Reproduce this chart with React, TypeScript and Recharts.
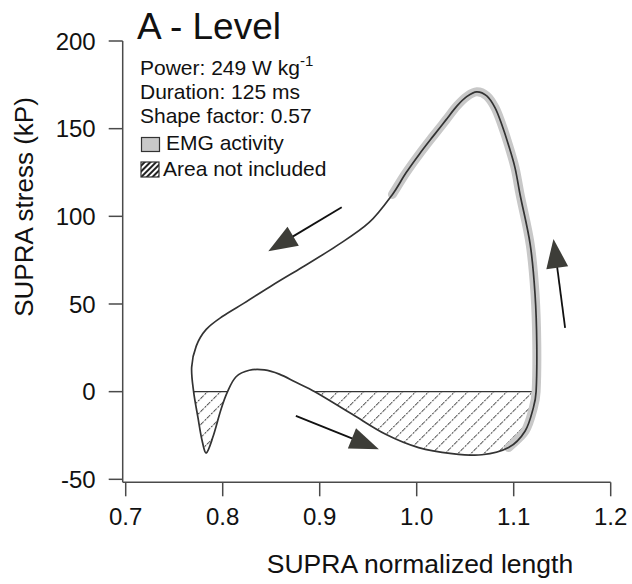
import React from 'react'
import { ComposedChart, Line, Area, XAxis, YAxis, ReferenceLine, Customized } from 'recharts'

// Work loop: normalized length vs stress, traced counter-clockwise from the upper branch
const loopLength = [
  0.975, 0.951, 0.917, 0.882, 0.852, 0.822, 0.8, 0.783, 0.7727, 0.768,
  0.77, 0.7745, 0.7788, 0.783, 0.7897, 0.7983, 0.805, 0.8138, 0.8274, 0.843,
  0.8583, 0.875, 0.895, 0.9336, 0.968, 1.002, 1.0364, 1.0672, 1.0947, 1.1118,
  1.1203, 1.1231, 1.1238, 1.122, 1.117, 1.1065, 1.1013, 1.0944, 1.0876, 1.0807,
  1.0722, 1.0619, 1.0519, 1.0416, 1.0302, 1.0168, 1.0029, 0.989, 0.975,
]
const loopStress = [
  112.5, 96.5, 83, 71, 61, 50.5, 43, 35.5, 26, 14,
  0, -14.8, -28, -35, -26.2, -10, 0, 8.5, 12.2, 12.4,
  10, 5.5, 0, -12.9, -24.3, -31.9, -35.3, -36, -31.9, -22.4,
  -9.1, 0, 27, 55.5, 84, 112.6, 127.8, 141.1, 152.5, 162,
  168.7, 171, 168.4, 163, 155, 145.6, 135.6, 124.8, 112.5,
]

// index ranges into the loop
const emgRange = [28, 48]
const leftLobeRange = [10, 16]
const rightLobeRange = [22, 31]

const xTicks = [0.7, 0.8, 0.9, 1.0, 1.1, 1.2]
const yTicks = [-50, 0, 50, 100, 150, 200]

// direction arrows [fromLength, fromStress, toLength, toStress]
const arrows = [
  [0.9227, 105.2, 0.847, 80.1],
  [0.8754, -13.8, 0.961, -32.8],
  [1.153, 36.4, 1.141, 87.1],
]

const infoLines = ['Duration: 125 ms', 'Shape factor: 0.57']

const loop = loopLength.map((x, i) => ({ x, y: loopStress[i] }))
const slice = (r: number[]) => loop.slice(r[0], r[1] + 1)

const FONT = '"Liberation Sans", Arial, sans-serif'
const AXIS = '#4a4a4a'

// Chord-length Catmull-Rom curve for recharts; a path whose ends meet is joined smoothly
const loopCurve = (context: any) => {
  let line = NaN
  let pts: number[][] = []
  const dist = (a: number[], b: number[]) => Math.hypot(b[0] - a[0], b[1] - a[1])
  return {
    areaStart() { line = 0 },
    areaEnd() { line = NaN },
    lineStart() { pts = [] },
    point(x: number, y: number) { pts.push([+x, +y]) },
    lineEnd() {
      const n = pts.length
      if (n) {
        if (line) context.lineTo(pts[0][0], pts[0][1])
        else context.moveTo(pts[0][0], pts[0][1])
        const closed = n > 3 && dist(pts[0], pts[n - 1]) < 0.01
        for (let i = 0; i < n - 1; i++) {
          const p1 = pts[i]
          const p2 = pts[i + 1]
          const p0 = i > 0 ? pts[i - 1] : closed ? pts[n - 2] : p1
          const p3 = i < n - 2 ? pts[i + 2] : closed ? pts[1] : p2
          const d01 = dist(p0, p1)
          const d12 = dist(p1, p2)
          const d23 = dist(p2, p3)
          if (d12 === 0) continue
          const k1 = d12 / (d01 + d12) / 3
          const k2 = d12 / (d12 + d23) / 3
          context.bezierCurveTo(
            p1[0] + (p2[0] - p0[0]) * k1, p1[1] + (p2[1] - p0[1]) * k1,
            p2[0] - (p3[0] - p1[0]) * k2, p2[1] - (p3[1] - p1[1]) * k2,
            p2[0], p2[1],
          )
        }
        if (line) context.closePath()
      }
      line = 1 - line
    },
  }
}

const ArrowShape = (p: any) => {
  const { x1, y1, x2, y2 } = p
  const len = Math.hypot(x2 - x1, y2 - y1)
  const ux = (x2 - x1) / len
  const uy = (y2 - y1) / len
  const hl = 29
  const hw = 11
  const bx = x2 - ux * hl
  const by = y2 - uy * hl
  return (
    <g>
      <line x1={x1} y1={y1} x2={bx + ux * 4} y2={by + uy * 4} stroke="#111" strokeWidth={1.8} />
      <polygon
        points={`${x2},${y2} ${bx - uy * hw},${by + ux * hw} ${bx + uy * hw},${by - ux * hw}`}
        fill="#3d3d38"
      />
    </g>
  )
}

const Annotations = () => (
  <g fontFamily={FONT} fill="#111">
    <text x={137} y={39} fontSize={37}>A - Level</text>
    <text x={140} y={75} fontSize={21}>
      Power: 249 W kg<tspan dy={-9} fontSize={15}>-1</tspan>
    </text>
    {infoLines.map((t, i) => (
      <text key={t} x={140} y={99 + i * 24} fontSize={21}>{t}</text>
    ))}
    <rect x={141.5} y={137.5} width={18} height={14} fill="#c8c8c8" stroke="#333" strokeWidth={1.2} />
    <text x={166} y={149.5} fontSize={21}>EMG activity</text>
    <rect x={141} y={162} width={18} height={15} fill="url(#hatchSmall)" stroke="#333" strokeWidth={1.2} />
    <text x={163} y={176} fontSize={21}>Area not included</text>
    <text x={420} y={573} fontSize={26.5} textAnchor="middle">SUPRA normalized length</text>
    <text transform="translate(33,207) rotate(-90)" fontSize={26} textAnchor="middle">SUPRA stress (kP)</text>
  </g>
)

export default function App() {
  return (
    <div style={{ position: 'absolute', left: 0, top: 0, width: 632, height: 584, background: '#fff' }}>
      <ComposedChart
        width={632}
        height={584}
        margin={{ top: 41, right: 21.3, bottom: 61.7, left: 62.7 }}
        style={{ fontFamily: FONT }}
      >
        <defs>
          <pattern id="hatch" patternUnits="userSpaceOnUse" width={9.2} height={9.2} patternTransform="rotate(45)">
            <line x1={0} y1={0} x2={0} y2={9.2} stroke="#444" strokeWidth={2} strokeDasharray="2.2 1.2" />
          </pattern>
          <pattern id="hatchSmall" patternUnits="userSpaceOnUse" width={4} height={4} patternTransform="rotate(45)">
            <rect x={0} y={0} width={4} height={4} fill="#fff" />
            <line x1={1} y1={0} x2={1} y2={4} stroke="#222" strokeWidth={2} />
          </pattern>
        </defs>
        <XAxis
          type="number"
          dataKey="x"
          domain={[0.6969, 1.2]}
          ticks={xTicks}
          allowDataOverflow
          tickFormatter={(v: number) => v.toFixed(1)}
          height={40}
          tickSize={14}
          tickMargin={12}
          axisLine={{ stroke: AXIS, strokeWidth: 1.5 }}
          tickLine={{ stroke: AXIS, strokeWidth: 1.5 }}
          tick={{ fill: '#111', fontSize: 24 }}
        />
        <YAxis
          type="number"
          dataKey="y"
          domain={[-51.7, 200]}
          ticks={yTicks}
          allowDataOverflow
          width={60}
          tickSize={14}
          tickMargin={13}
          axisLine={{ stroke: AXIS, strokeWidth: 1.5 }}
          tickLine={{ stroke: AXIS, strokeWidth: 1.5 }}
          tick={{ fill: '#111', fontSize: 24 }}
        />
        <Area
          data={slice(leftLobeRange)}
          dataKey="y"
          type={loopCurve}
          baseValue={0}
          fill="url(#hatch)"
          fillOpacity={1}
          stroke="none"
          isAnimationActive={false}
        />
        <Area
          data={slice(rightLobeRange)}
          dataKey="y"
          type={loopCurve}
          baseValue={0}
          fill="url(#hatch)"
          fillOpacity={1}
          stroke="none"
          isAnimationActive={false}
        />
        <ReferenceLine
          segment={[{ x: loopLength[leftLobeRange[0]], y: 0 }, { x: loopLength[leftLobeRange[1]], y: 0 }]}
          stroke="#333"
          strokeWidth={1.2}
        />
        <ReferenceLine
          segment={[{ x: loopLength[rightLobeRange[0]], y: 0 }, { x: loopLength[rightLobeRange[1]], y: 0 }]}
          stroke="#333"
          strokeWidth={1.2}
        />
        <Line
          data={slice(emgRange)}
          dataKey="y"
          type={loopCurve}
          dot={false}
          stroke="#c8c8c8"
          strokeWidth={9}
          strokeLinecap="round"
          isAnimationActive={false}
        />
        <Line
          data={loop}
          dataKey="y"
          type={loopCurve}
          dot={false}
          stroke="#333"
          strokeWidth={1.7}
          isAnimationActive={false}
        />
        {arrows.map((a, i) => (
          <ReferenceLine
            key={i}
            segment={[{ x: a[0], y: a[1] }, { x: a[2], y: a[3] }]}
            shape={ArrowShape}
          />
        ))}
        <Customized component={Annotations} />
      </ComposedChart>
    </div>
  )
}
